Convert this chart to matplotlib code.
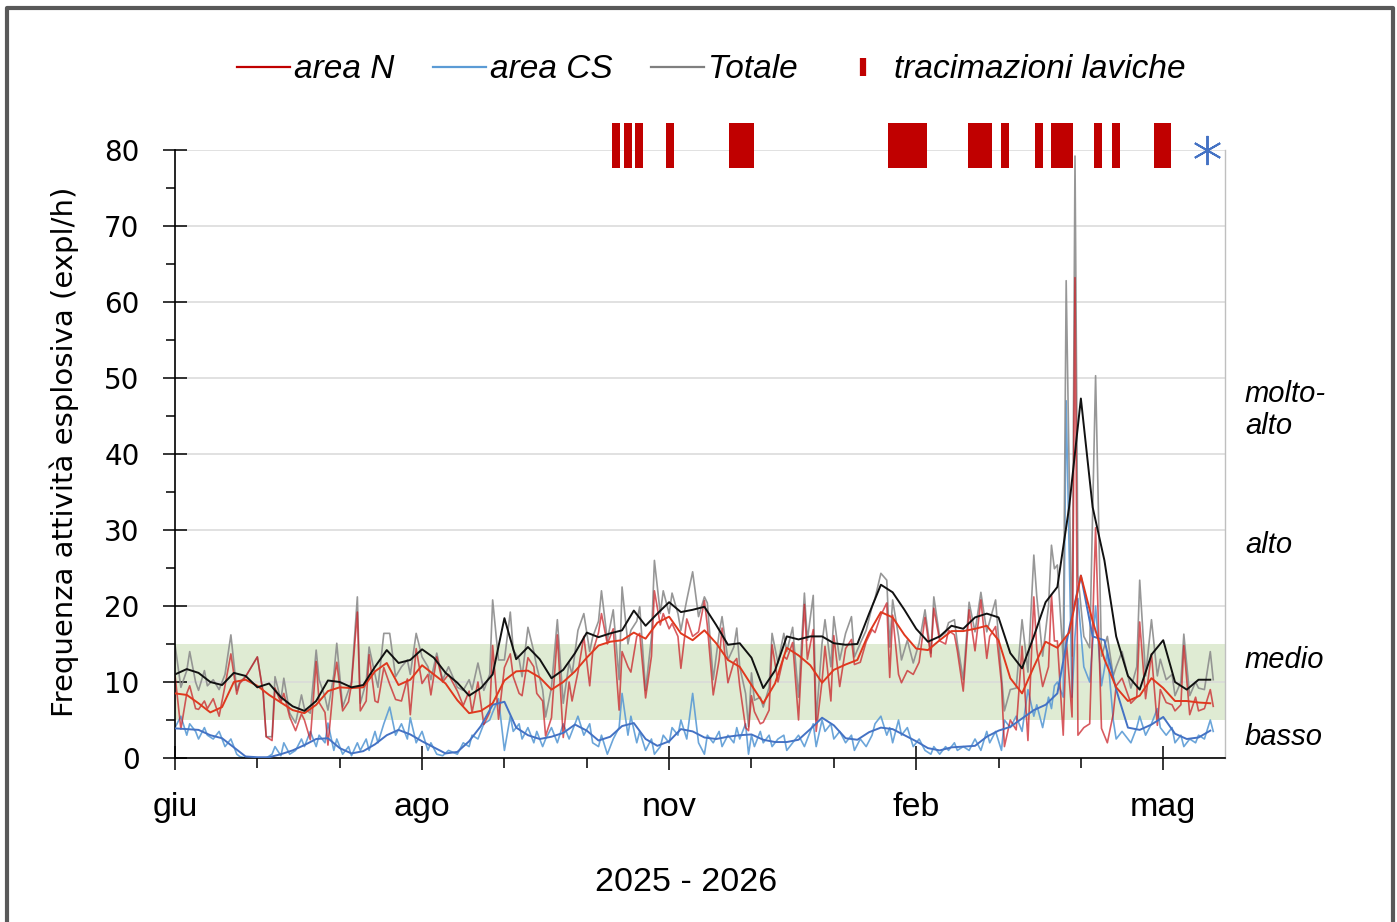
import matplotlib
matplotlib.use('Agg')
import matplotlib.pyplot as plt
from matplotlib.lines import Line2D
from matplotlib.font_manager import FontProperties

# ---------------- data (days since 1 June 2025) ----------------
raw_days = [0, 2, 4, 5, 7, 8, 10, 11, 13, 15, 17, 19, 21, 22, 24, 26, 28, 30, 31, 33,
            34, 36, 37, 39, 41, 43, 44, 46, 48, 49, 51, 52, 54, 55, 57, 59, 60, 62, 63, 65,
            66, 68, 69, 71, 73, 75, 77, 79, 80, 82, 84, 86, 87, 89,
            91, 93, 96, 98, 100, 101, 103, 105, 107, 108, 110, 112, 114, 115, 117, 118, 120, 122, 123, 125,
            126, 128, 130, 132, 134, 135, 137, 139, 141, 142, 144, 145, 147, 149, 151, 152, 154, 155, 157, 158,
            160, 162, 163, 165, 166, 168, 169, 171, 172, 174, 176, 178,
            180, 181, 183, 185, 186, 188, 190, 191, 192, 194, 195, 196, 197, 199, 200, 202, 203, 205, 207, 208,
            210, 212, 214, 215, 217, 218, 220, 221, 223, 224, 226, 228, 230, 231, 233, 235, 237, 238, 240, 242,
            243, 244, 246, 247, 249, 251, 253, 255, 257, 258, 260, 262, 263, 265, 266,
            268, 270, 272, 274, 276, 277, 279, 281, 282, 284, 286, 288, 290, 292, 293, 295, 297, 298, 299, 300,
            302, 303, 305, 306, 307, 309, 311, 313, 315, 317, 319, 320, 322, 325, 327, 328, 330, 332, 334, 335,
            337, 339, 340, 342, 343, 345, 347, 348, 350, 352, 353]

raw_total = [14.9, 9.3, 11.5, 14.0, 10.0, 8.9, 11.5, 9.5, 10.3, 9.0, 11.0, 16.2, 8.9, 10.0, 10.7, 12.0, 13.3, 8.5, 2.8, 2.8,
             10.7, 7.6, 10.5, 5.9, 4.6, 8.3, 6.5, 5.9, 14.2, 10.3, 8.0, 6.3, 11.0, 15.1, 6.7, 8.9, 10.0, 21.2, 7.2, 10.0,
             14.6, 11.0, 9.3, 16.4, 16.4, 10.7, 12.0, 12.9, 11.0, 16.4, 13.3, 12.0, 10.3, 13.8,
             10.3, 12.0, 9.3, 8.9, 10.3, 9.0, 12.5, 8.9, 11.0, 20.8, 12.9, 12.9, 19.2, 14.2, 13.0, 10.7, 17.2, 14.0, 12.0, 9.0,
             5.4, 9.3, 18.2, 7.2, 12.5, 11.0, 16.8, 19.0, 14.0, 15.9, 18.0, 22.0, 15.5, 19.5, 10.3, 22.5, 15.0, 16.8, 18.0, 19.9,
             8.9, 15.9, 26.0, 19.0, 22.0, 19.0, 21.7, 19.0, 16.8, 20.8, 24.5, 18.6,
             21.2, 20.4, 10.3, 16.4, 18.6, 12.9, 14.6, 17.1, 12.0, 8.5, 4.1, 11.2, 7.6, 8.0, 6.7, 9.3, 16.4, 12.5, 16.4, 14.0,
             17.2, 8.0, 21.7, 15.5, 21.4, 5.0, 15.1, 18.2, 12.0, 18.6, 12.9, 16.4, 18.6, 13.3, 15.1, 16.8, 19.9, 21.0, 24.3, 23.4,
             14.6, 20.8, 16.0, 12.9, 15.5, 12.5, 15.1, 19.5, 13.8, 21.2, 15.9, 16.5, 17.8, 18.2, 15.1,
             10.3, 20.5, 16.6, 21.8, 16.6, 18.0, 20.8, 10.8, 6.2, 9.0, 9.2, 18.2, 11.3, 26.7, 21.3, 13.4, 20.0, 28.0, 24.9, 25.4,
             12.9, 62.8, 13.4, 79.2, 24.0, 16.0, 14.5, 50.3, 13.4, 16.0, 10.8, 12.0, 14.0, 9.2, 12.0, 23.4, 10.8, 18.2, 10.8, 13.0,
             10.3, 11.0, 8.2, 10.0, 16.3, 8.2, 10.0, 9.2, 9.0, 14.0, 10.3]

raw_cs = [4.0, 5.5, 3.0, 4.5, 3.5, 2.5, 4.0, 3.0, 2.5, 3.5, 1.5, 2.5, 0.5, 0.2, 0.0, 0.0, 0.0, 0.0, 0.0, 0.5,
          1.5, 0.3, 2.0, 0.5, 1.0, 2.5, 1.5, 3.5, 1.5, 3.0, 2.0, 4.6, 1.0, 2.5, 0.5, 1.5, 0.3, 2.0, 1.0, 2.5,
          1.0, 3.5, 2.0, 4.5, 6.7, 3.0, 4.5, 2.5, 5.3, 2.0, 3.5, 1.0, 2.0, 0.5,
          0.3, 1.0, 0.5, 2.0, 1.5, 3.0, 2.5, 4.5, 5.0, 6.0, 7.8, 1.0, 5.5, 3.5, 4.5, 2.5, 4.0, 2.0, 3.5, 1.5,
          2.5, 4.0, 2.0, 4.5, 2.5, 3.5, 5.5, 3.0, 4.5, 2.0, 1.5, 3.0, 0.5, 2.5, 4.0, 8.5, 3.0, 5.5, 2.0, 3.5,
          1.0, 2.5, 0.5, 1.5, 3.0, 2.0, 4.0, 3.0, 5.0, 2.5, 8.5, 2.0,
          0.5, 3.0, 2.0, 3.5, 1.5, 3.0, 2.0, 4.0, 2.5, 4.5, 0.5, 3.0, 1.5, 3.5, 2.0, 3.0, 1.5, 2.5, 3.0, 1.0,
          2.0, 3.0, 1.5, 2.5, 4.5, 1.5, 5.0, 3.5, 4.5, 2.5, 3.5, 2.0, 3.0, 1.0, 2.5, 1.5, 3.0, 4.5, 5.5, 3.0,
          4.0, 2.0, 5.0, 3.0, 4.0, 1.5, 2.5, 1.0, 0.5, 1.5, 0.5, 1.5, 1.0, 2.0, 1.0,
          1.5, 1.0, 2.5, 1.0, 3.5, 2.0, 3.5, 1.0, 5.0, 4.0, 5.5, 3.5, 9.0, 5.5, 7.0, 4.0, 8.0, 6.5, 9.5, 10.0,
          8.0, 47.0, 8.0, 16.0, 21.0, 12.0, 10.0, 20.0, 9.5, 14.0, 5.0, 2.5, 3.5, 2.0, 4.0, 5.5, 3.0, 4.5, 6.5, 4.0,
          3.0, 4.0, 2.0, 3.0, 1.5, 2.5, 2.0, 3.0, 2.5, 5.0, 3.5]

raw_n = [10.9, 3.8, 8.5, 9.5, 6.5, 6.4, 7.5, 6.5, 7.8, 5.5, 9.5, 13.7, 8.4, 9.8, 10.7, 12.0, 13.3, 8.5, 2.8, 2.3,
         9.2, 7.3, 8.5, 5.4, 3.6, 5.8, 5.0, 2.4, 12.7, 7.3, 6.0, 1.7, 10.0, 12.6, 6.2, 7.4, 9.7, 19.2, 6.2, 7.5,
         13.6, 7.5, 7.3, 11.9, 9.7, 7.7, 7.5, 10.4, 5.7, 14.4, 9.8, 11.0, 8.3, 13.3,
         10.0, 11.0, 8.8, 6.9, 8.8, 6.0, 10.0, 4.4, 6.0, 14.8, 5.1, 11.9, 13.7, 10.7, 8.5, 8.2, 13.2, 12.0, 8.5, 7.5,
         2.9, 5.3, 16.2, 2.7, 10.0, 7.5, 11.3, 16.0, 9.5, 13.9, 16.5, 19.0, 15.0, 17.0, 6.3, 14.0, 12.0, 11.3, 16.0, 16.4,
         7.9, 13.4, 22.0, 17.5, 19.0, 17.0, 17.7, 16.0, 11.8, 18.3, 16.0, 16.6,
         20.7, 17.4, 8.3, 12.9, 17.1, 9.9, 12.6, 13.1, 9.5, 4.0, 3.6, 8.2, 6.1, 4.5, 4.7, 6.3, 14.9, 10.0, 13.4, 13.0,
         15.2, 5.0, 20.2, 13.0, 16.9, 3.5, 10.1, 14.7, 7.5, 16.1, 9.4, 14.4, 15.6, 12.3, 12.6, 15.3, 16.9, 16.5, 18.8, 20.4,
         10.6, 18.8, 11.0, 9.9, 11.5, 11.0, 12.6, 18.5, 13.3, 19.7, 15.4, 15.0, 16.8, 16.2, 14.1,
         8.8, 19.5, 14.1, 20.8, 13.1, 16.0, 17.3, 9.8, 1.5, 5.0, 3.7, 14.7, 2.3, 21.2, 14.3, 9.4, 12.0, 21.5, 15.4, 15.4,
         3.0, 15.8, 5.4, 63.2, 3.0, 4.0, 4.5, 30.3, 3.9, 2.0, 5.8, 9.5, 10.5, 7.2, 8.0, 17.9, 7.8, 13.7, 4.3, 9.0,
         7.3, 7.0, 6.2, 7.0, 14.8, 5.7, 8.0, 6.2, 6.5, 9.0, 6.8]

sm_days = list(range(0, 353, 4))
sm_total = [11.0, 11.7, 11.2, 10.0, 9.6, 11.2, 10.8, 9.3, 9.8, 8.0,
            6.8, 6.2, 7.5, 10.2, 10.0, 9.3, 9.6, 12.0, 14.2, 12.5,
            12.9, 14.3, 13.2, 11.2, 9.9, 8.2, 9.2, 11.0, 18.4, 13.0,
            14.6, 13.0, 10.5, 11.6, 13.8, 16.5, 15.9, 16.4, 16.8, 19.4,
            17.4, 19.0, 20.5, 19.2, 19.5, 19.9, 17.5, 14.9, 15.1, 13.2,
            9.2, 11.5, 16.0, 15.6, 16.0, 16.0, 15.1, 14.9, 15.0, 19.0,
            22.8, 21.8, 19.5, 17.0, 15.3, 16.0, 17.4, 17.0, 18.5, 19.0,
            18.5, 13.8, 11.8, 16.0, 20.5, 22.5, 33.0, 47.3, 33.0, 26.0,
            16.0, 10.8, 9.0, 13.6, 15.5, 10.0, 9.0, 10.3, 10.3]
sm_n = [8.5, 8.3, 7.2, 6.0, 6.7, 10.0, 10.3, 9.5, 8.3, 7.3,
        6.3, 5.9, 7.0, 8.8, 9.3, 9.2, 9.3, 11.4, 12.5, 9.6,
        10.3, 12.2, 11.0, 9.8, 7.6, 5.9, 6.2, 7.2, 10.2, 11.4,
        11.5, 10.6, 9.0, 10.0, 11.4, 13.2, 14.8, 15.3, 15.5, 16.5,
        15.7, 17.8, 18.6, 16.4, 15.5, 16.8, 15.1, 12.9, 12.0, 9.6,
        7.2, 9.8, 14.5, 13.5, 12.2, 9.9, 11.6, 12.3, 12.9, 16.5,
        19.2, 18.5, 16.2, 14.4, 14.2, 15.5, 16.7, 16.7, 17.0, 17.4,
        15.5, 10.5, 8.5, 12.0, 15.3, 14.5, 16.5, 24.0, 18.0, 13.0,
        9.3, 7.5, 8.2, 10.5, 9.2, 7.5, 7.5, 7.3, 7.2]
sm_cs = [3.9, 3.8, 3.7, 3.0, 2.6, 1.4, 0.2, 0.1, 0.1, 0.5,
         1.0, 1.7, 2.5, 2.6, 1.3, 0.6, 0.9, 1.8, 3.0, 3.7,
         3.1, 2.2, 1.4, 0.6, 0.8, 2.2, 4.2, 7.0, 7.4, 4.0,
         3.0, 2.5, 2.8, 3.3, 4.4, 3.6, 2.3, 2.8, 4.2, 4.6,
         2.5, 1.6, 2.2, 3.8, 3.5, 2.7, 2.5, 2.8, 3.0, 3.1,
         2.4, 2.1, 2.1, 2.4, 3.8, 5.3, 4.3, 2.6, 2.4, 3.4,
         4.0, 3.8, 3.0, 2.2, 1.3, 1.0, 1.4, 1.5, 1.6, 2.8,
         3.6, 4.1, 5.2, 6.3, 7.0, 8.5, 17.0, 24.0, 16.0, 15.5,
         9.0, 4.0, 3.7, 4.4, 5.4, 3.2, 2.5, 2.7, 3.6]

# lava overflows: start day and duration (days)
lava_start = [148.5, 152.5, 156.5, 167.0, 188.5, 242.5, 269.5, 281.0, 292.5, 298.0, 312.5, 318.5, 333.0]
lava_len = [2.7, 2.8, 2.5, 2.8, 8.5, 13.3, 8.3, 2.7, 2.7, 7.3, 2.7, 2.7, 5.5]
lava_low, lava_high = 77.6, 83.5

star_day = [351]
star_val = [80]

tick_days = [0, 84, 168, 252, 336]
tick_labels = ['giu', 'ago', 'nov', 'feb', 'mag']
minor_days = [28, 56, 112, 140, 196, 224, 280, 308]

levels = ['molto-\nalto', 'alto', 'medio', 'basso']
level_y = [45.8, 28.0, 12.9, 2.8]

# ---------------- styling ----------------
SANS = ['Liberation Sans', 'DejaVu Sans']
W, H = 1397, 922


def fx(px):
    return px / W


def fy(py):
    return 1 - py / H


fig = plt.figure(figsize=(W / 100, H / 100), dpi=100)
ax = fig.add_axes([fx(175), fy(758), fx(1225) - fx(175), fy(150) - fy(758)])

ax.axhspan(5, 15, color='#dfebd3', zorder=0, lw=0)
ax.set_axisbelow(True)
ax.yaxis.grid(True, color='#d9d9d9', lw=1.1, zorder=0.5)

ax.plot(raw_days, raw_cs, color='#5b9bd5', lw=1.2, alpha=0.9, zorder=2)
ax.plot(raw_days, raw_total, color='#8c8c8c', lw=1.2, alpha=0.9, zorder=2.2)
ax.plot(raw_days, raw_n, color='#c8161d', lw=1.2, alpha=0.7, zorder=2.4)
ax.plot(sm_days, sm_cs, color='#4472c4', lw=1.4, zorder=3)
ax.plot(sm_days, sm_n, color='#e0381e', lw=1.4, zorder=3.2)
ax.plot(sm_days, sm_total, color='#111111', lw=1.4, zorder=3.4)

ax.bar(lava_start, lava_high - lava_low, width=lava_len, bottom=lava_low, align='edge',
       color='#c00000', lw=0, clip_on=False, zorder=6)
ax.plot(star_day, star_val, ls='none', marker=(6, 2, 0), ms=21, mec='#4472c4', mew=1.4,
        clip_on=False, zorder=7)

ax.set_xlim(0, 357)
ax.set_ylim(0, 80)

ax.set_xticks(tick_days)
ax.set_xticklabels(tick_labels, fontfamily=SANS, fontsize=24.5)
ax.set_xticks(minor_days, minor=True)
ax.tick_params(axis='x', which='major', direction='inout', length=17, width=1.1, pad=16, color='black')
ax.tick_params(axis='x', which='minor', direction='out', length=7.5, width=1.1, color='black')

ax.set_yticks(range(0, 81, 10))
ax.set_yticks(range(5, 80, 10), minor=True)
ax.set_yticklabels([str(v) for v in range(0, 81, 10)], fontfamily='DejaVu Sans', fontsize=20)
ax.tick_params(axis='y', which='major', direction='inout', length=17, width=1.1, pad=17, color='black')
ax.tick_params(axis='y', which='minor', direction='out', length=6.5, width=1.1, color='black')

ax.spines['top'].set_visible(False)
ax.spines['right'].set_color('#bfbfbf')
ax.spines['right'].set_linewidth(1.0)
ax.spines['left'].set_linewidth(1.2)
ax.spines['bottom'].set_linewidth(1.2)

for lab, yv in zip(levels, level_y):
    ax.text(1.019, yv, lab, transform=ax.get_yaxis_transform(), ha='left', va='center',
            fontfamily=SANS, style='italic', fontsize=21, linespacing=1.2)

fig.text(fx(64), fy(452), 'Frequenza attività esplosiva (expl/h)', rotation=90,
         ha='center', va='center', fontfamily='DejaVu Sans', fontsize=21)
fig.text(fx(686), fy(882), '2025 - 2026', ha='center', va='center',
         fontfamily=SANS, fontsize=24.5)

handles = [Line2D([], [], color='#c00000', lw=1.6),
           Line2D([], [], color='#5b9bd5', lw=1.6),
           Line2D([], [], color='#7f7f7f', lw=1.6),
           Line2D([], [], color='#c00000', ls='none', marker='|', ms=13, mew=4.5)]
labels = ['area N', 'area CS', 'Totale', 'tracimazioni laviche']
fig.legend(handles, labels, loc='center', bbox_to_anchor=(fx(711), fy(70)), ncol=4,
           frameon=False, prop=FontProperties(family=SANS, style='italic', size=24),
           handlelength=1.6, handletextpad=0.12, columnspacing=1.15)

fig.add_artist(Line2D([fx(7), fx(7), fx(1393), fx(1393)], [fy(940), fy(8), fy(8), fy(940)],
                      transform=fig.transFigure, color='#595959', lw=3))

fig.savefig('out.png', dpi=100)
